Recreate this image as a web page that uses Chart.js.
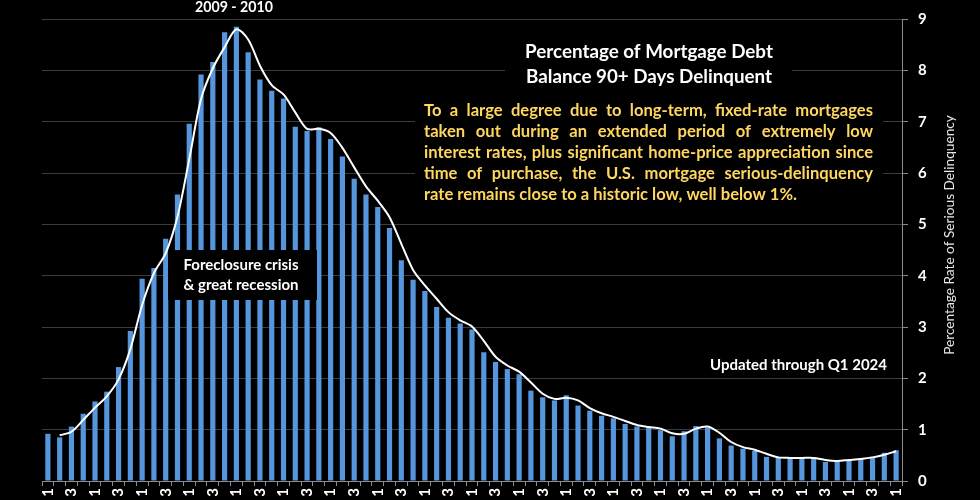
<!DOCTYPE html>
<html><head><meta charset="utf-8">
<script src="https://cdn.jsdelivr.net/npm/chart.js@4.4.1/dist/chart.umd.min.js"></script>
<style>
html,body{margin:0;padding:0;background:#000;overflow:hidden;}
#wrap{position:relative;width:980px;height:500px;}
</style></head><body>
<div id="wrap"><canvas id="c"></canvas></div>
<script>
const categories = [
 '06:Q1','06:Q2','06:Q3','06:Q4','07:Q1','07:Q2','07:Q3','07:Q4',
 '08:Q1','08:Q2','08:Q3','08:Q4','09:Q1','09:Q2','09:Q3','09:Q4',
 '10:Q1','10:Q2','10:Q3','10:Q4','11:Q1','11:Q2','11:Q3','11:Q4',
 '12:Q1','12:Q2','12:Q3','12:Q4','13:Q1','13:Q2','13:Q3','13:Q4',
 '14:Q1','14:Q2','14:Q3','14:Q4','15:Q1','15:Q2','15:Q3','15:Q4',
 '16:Q1','16:Q2','16:Q3','16:Q4','17:Q1','17:Q2','17:Q3','17:Q4',
 '18:Q1','18:Q2','18:Q3','18:Q4','19:Q1','19:Q2','19:Q3','19:Q4',
 '20:Q1','20:Q2','20:Q3','20:Q4','21:Q1','21:Q2','21:Q3','21:Q4',
 '22:Q1','22:Q2','22:Q3','22:Q4','23:Q1','23:Q2','23:Q3','23:Q4',
 '24:Q1'
];
const delinquencyRate = [
 0.92,0.85,1.06,1.31,1.55,1.74,2.22,2.92,
 3.94,4.15,4.72,5.58,6.96,7.92,8.16,8.74,
 8.85,8.35,7.82,7.60,7.45,6.90,6.82,6.89,
 6.66,6.32,5.89,5.58,5.34,4.93,4.30,3.92,
 3.70,3.39,3.18,3.07,2.95,2.51,2.32,2.18,
 2.08,1.76,1.63,1.57,1.67,1.47,1.37,1.27,
 1.22,1.11,1.06,1.04,0.99,0.87,0.97,1.07,
 1.04,0.83,0.69,0.63,0.59,0.47,0.45,0.45,
 0.45,0.45,0.37,0.40,0.42,0.44,0.47,0.55,
 0.60
];
const trendLine = [
 null,0.89,0.96,1.19,1.43,1.65,1.98,2.57,
 3.43,4.05,4.44,5.15,6.27,7.44,8.04,8.45,
 8.80,8.60,8.09,7.71,7.53,7.18,6.86,6.86,
 6.78,6.49,6.11,5.74,5.46,5.14,4.62,4.11,
 3.81,3.55,3.29,3.13,3.01,2.73,2.42,2.25,
 2.13,1.92,1.70,1.60,1.62,1.57,1.42,1.32,
 1.25,1.17,1.09,1.05,1.02,0.93,0.92,1.02,
 1.06,0.94,0.76,0.66,0.61,0.53,0.46,0.45,
 0.45,0.45,0.41,0.39,0.41,0.43,0.46,0.51,
 0.58
];
const yTicks = [0,1,2,3,4,5,6,7,8,9];
const titleLines = ['Percentage of Mortgage Debt','Balance 90+ Days Delinquent'];
const noteLines = [
 'To a large degree due to long-term, fixed-rate mortgages',
 'taken out during an extended period of extremely low',
 'interest rates, plus significant home-price appreciation since',
 'time of purchase, the U.S. mortgage serious-delinquency',
 'rate remains close to a historic low, well below 1%.'
];
const peakLabel = '2009 - 2010';
const crisisLines = ['Foreclosure crisis','& great recession'];
const updatedLabel = 'Updated through Q1 2024';
const axisTitle = 'Percentage Rate of Serious Delinquency';

const FONT = 'Lato';
function fitSize(ctx, text, weight, target){
  ctx.font = weight + ' 100px ' + FONT;
  return 100 * target / ctx.measureText(text).width;
}
function setFont(ctx, weight, size){ ctx.font = weight + ' ' + size.toFixed(2) + 'px ' + FONT; }

const overlay = {
  id: 'overlay',
  afterDatasetsDraw(chart){
    const ctx = chart.ctx;
    ctx.save();
    ctx.fillStyle = '#000';
    ctx.fillRect(183, 0, 102, 19);
    ctx.fillRect(505, 35, 287, 57);
    ctx.fillRect(415, 97, 468, 116);
    ctx.fillRect(168, 250, 149, 50);
    ctx.fillRect(703, 352, 190, 25);

    ctx.textBaseline = 'alphabetic';
    ctx.fillStyle = '#ffffff';
    ctx.textAlign = 'center';
    setFont(ctx, 'bold', fitSize(ctx, peakLabel, 'bold', 78));
    ctx.fillText(peakLabel, 234, 12);
    const ts = fitSize(ctx, titleLines[0], 'bold', 248);
    setFont(ctx, 'bold', ts);
    ctx.fillText(titleLines[0], 649, 58);
    ctx.fillText(titleLines[1], 649, 83);
    const cs = fitSize(ctx, crisisLines[0], 'bold', 115);
    setFont(ctx, 'bold', cs);
    ctx.fillText(crisisLines[0], 241, 270);
    ctx.fillText(crisisLines[1], 241, 289.5);
    ctx.textAlign = 'right';
    setFont(ctx, 'bold', fitSize(ctx, updatedLabel, 'bold', 177));
    ctx.fillText(updatedLabel, 887, 370);
    ctx.fillStyle = '#FFD75E';
    ctx.textAlign = 'left';
    const ns = fitSize(ctx, noteLines[4], 'bold', 373);
    setFont(ctx, 'bold', ns);
    const left = 424, width = 449;
    const base = [116, 137, 158, 179, 200];
    noteLines.forEach((line, i) => {
      if (i === noteLines.length - 1) { ctx.fillText(line, left, base[i]); return; }
      const words = line.split(' ');
      const ws = words.map(w => ctx.measureText(w).width);
      const sum = ws.reduce((a,b)=>a+b,0);
      const gap = (width - sum) / (words.length - 1);
      let x = left;
      words.forEach((w, k) => { ctx.fillText(w, x, base[i]); x += ws[k] + gap; });
    });
    ctx.fillStyle = '#e8e8e8';
    ctx.translate(950, 235);
    ctx.rotate(-Math.PI/2);
    ctx.textAlign = 'center';
    ctx.textBaseline = 'middle';
    setFont(ctx, 'normal', fitSize(ctx, axisTitle, 'normal', 240));
    ctx.fillText(axisTitle, 0, 0);
    ctx.restore();
  }
};

new Chart(document.getElementById('c'), {
  data: {
    labels: categories,
    datasets: [
      { type: 'line', data: trendLine, borderColor: '#ffffff', borderWidth: 2,
        pointRadius: 0, tension: 0.3, fill: false, order: 0 },
      { type: 'bar', data: delinquencyRate, backgroundColor: '#5596DC',
        barPercentage: 0.44, categoryPercentage: 1.0, order: 1 }
    ]
  },
  options: {
    responsive: true, maintainAspectRatio: false, animation: false,
    devicePixelRatio: 1,
    layout: { padding: { left: 42, top: 13, right: 0, bottom: 0 } },
    plugins: { legend: { display: false }, tooltip: { enabled: false } },
    scales: {
      x: {
        offset: true,
        grid: { display: true, drawOnChartArea: false, tickLength: 5, tickColor: '#8c8c8c', offset: true },
        border: { color: '#8c8c8c' },
        ticks: {
          autoSkip: false, minRotation: 90, maxRotation: 90, padding: 2,
          color: '#ffffff', font: { family: FONT, size: 15, weight: 'bold' },
          callback: function(v, i){ return i % 2 === 0 ? categories[i] : ''; }
        },
        afterFit: (s) => { s.height = 15; }
      },
      y: {
        position: 'right', min: 0, max: 9,
        afterBuildTicks: (s) => { s.ticks = yTicks.map(v => ({ value: v })); },
        grid: { color: '#3c3c3c', tickColor: '#8c8c8c', tickLength: 6 },
        border: { color: '#8c8c8c' },
        ticks: { color: '#ffffff', padding: 10, font: { family: FONT, size: 15, weight: 'bold' } },
        afterFit: (s) => { s.width = 78; }
      }
    }
  },
  plugins: [overlay]
});
</script>
</body></html>
